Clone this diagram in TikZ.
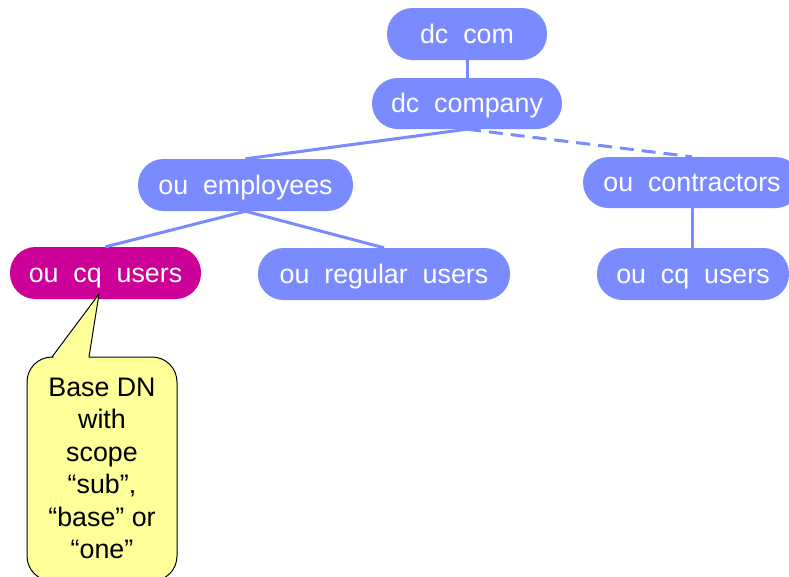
\documentclass[tikz,border=0pt]{standalone}
\usepackage{fontspec}
\setmainfont{Liberation Sans}
\definecolor{nodeblue}{RGB}{122,138,255}
\definecolor{nodemag}{RGB}{204,0,153}
\definecolor{calloutyellow}{RGB}{255,255,153}
\begin{document}
\begin{tikzpicture}[x=1pt,y=-1pt,
  dnbox/.style={rectangle, rounded corners=25.5pt, fill=nodeblue, text=white,
    inner sep=0pt, minimum height=52pt, text height=19.2pt, text depth=1pt,
    font=\fontsize{26.8}{32}\selectfont},
  link/.style={draw=nodeblue, line width=3pt},
  dashlink/.style={link, dash pattern=on 14pt off 8pt}
]
\clip (0,0) rectangle (789,576);
\fill[white] (0,0) rectangle (789,576);

\node[dnbox, minimum width=160pt] (com) at (467,34) {dc\ \ com};
\node[dnbox, minimum width=190pt, minimum height=51pt] (company) at (467,103.5) {dc\ \ company};
\node[dnbox, minimum width=215pt] (emp) at (245.5,185) {ou\ \ employees};
\node[dnbox, minimum width=218pt, minimum height=51pt] (contr) at (692,182.5) {ou\ \ contractors};
\node[dnbox, minimum width=191pt, fill=nodemag] (cq1) at (105.5,273) {ou\ \ cq\ \ users};
\node[dnbox, minimum width=252pt] (reg) at (384,274) {ou\ \ regular\ \ users};
\node[dnbox, minimum width=192pt] (cq2) at (693,274) {ou\ \ cq\ \ users};

\draw[link] (com.south) -- (company.north);
\draw[link] (company.south) -- (emp.north);
\draw[dashlink] (company.south) -- (contr.north);
\draw[link] (emp.south) -- (cq1.north);
\draw[link] (emp.south) -- (reg.north);
\draw[link] (contr.south) -- (contr.south |- cq2.north);

% callout
\coordinate (tip) at (99,294);
\draw[fill=calloutyellow, line width=1pt, rounded corners=25pt] (27,357) rectangle (177,581);
\fill[calloutyellow] (52.5,359) -- (tip) -- (88.5,359) -- cycle;
\draw[line width=1pt, line join=miter] (52,357) -- (tip) -- (89,357);
\node[inner sep=0pt, align=center, font=\fontsize{26.8}{32.5}\selectfont] (callouttext) at (102,468.5)
  {Base DN\\with\\scope\\“sub”,\\“base” or\\“one”};
\end{tikzpicture}
\end{document}
